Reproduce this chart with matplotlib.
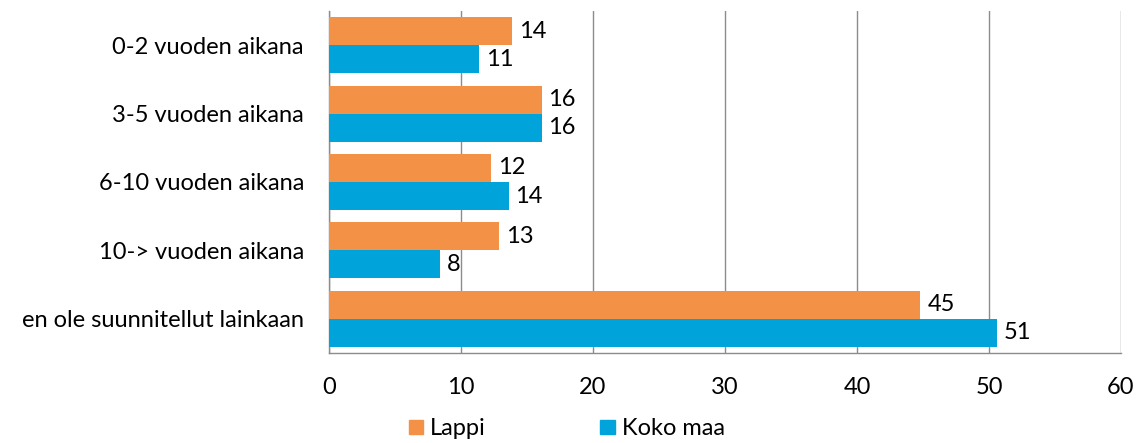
import numpy as np
import matplotlib.pyplot as plt
from matplotlib.patches import Patch

plt.rcParams['font.family'] = ['Lato', 'DejaVu Sans']

# Data
categories = ['0-2 vuoden aikana', '3-5 vuoden aikana', '6-10 vuoden aikana',
              '10-> vuoden aikana', 'en ole suunnitellut lainkaan']
lappi = [13.9, 16.1, 12.3, 12.9, 44.8]
koko_maa = [11.4, 16.1, 13.6, 8.4, 50.6]
series_names = ['Lappi', 'Koko maa']
xticks = [0, 10, 20, 30, 40, 50, 60]

orange = '#F39247'
blue = '#00A3DA'
fs = 17

fig = plt.figure(figsize=(11.45, 4.43), dpi=100)
ax = fig.add_axes([329 / 1145, 90 / 443, (1121 - 329) / 1145, 342 / 443])

y = np.arange(len(categories))
h = 0.41
b1 = ax.barh(y - h / 2, lappi, height=h, color=orange, edgecolor='none', zorder=3)
b2 = ax.barh(y + h / 2, koko_maa, height=h, color=blue, edgecolor='none', zorder=3)

# value labels, shown as rounded integers
for bars in (b1, b2):
    ax.bar_label(bars, labels=[f'{v:.0f}' for v in bars.datavalues],
                 padding=5, fontsize=fs, color='black')

ax.set_xlim(0, 60)
ax.set_ylim(len(categories) - 0.5, -0.5)
ax.set_xticks(xticks)
ax.set_yticks(y)
ax.set_yticklabels(categories)
ax.tick_params(axis='both', length=0, labelsize=fs, colors='black')
ax.tick_params(axis='x', pad=17)
ax.tick_params(axis='y', pad=18)

ax.grid(axis='x', color='#8c8c8c', linewidth=1, zorder=0)
for side in ['top', 'right']:
    ax.spines[side].set_visible(False)
for side in ['left', 'bottom']:
    ax.spines[side].set_color('#8c8c8c')
    ax.spines[side].set_linewidth(1)

handles = [Patch(color=orange), Patch(color=blue)]
fig.legend(handles, series_names, loc='center', bbox_to_anchor=(0.495, 0.032),
           ncol=2, frameon=False, fontsize=fs, handlelength=0.6,
           handleheight=0.6, handletextpad=0.3, columnspacing=4.85)

fig.savefig('out.png', dpi=100)
